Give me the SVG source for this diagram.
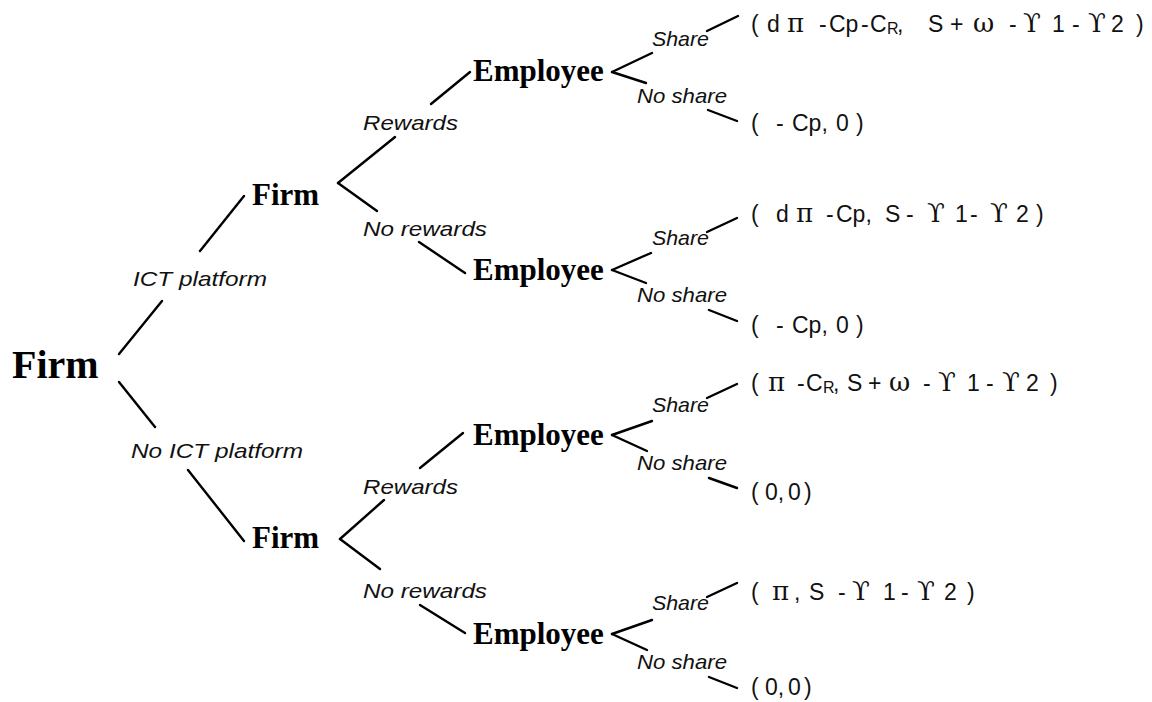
<svg xmlns="http://www.w3.org/2000/svg" width="1152" height="702" viewBox="0 0 1152 702">
<style>
.node{font-family:"Liberation Serif","Times New Roman",serif;font-weight:bold;fill:#000}
.lbl{font-family:"Liberation Sans",Arial,sans-serif;font-style:italic;font-size:21px;fill:#111}
.pay{font-family:"Liberation Sans",Arial,sans-serif;font-size:23px;fill:#111}
.gk{font-family:"DejaVu Serif","Liberation Serif",serif;font-size:26px}
.sub{font-size:16px}
.edge line{stroke:#000;stroke-width:2.4;stroke-linecap:round}
</style>
<rect width="1152" height="702" fill="#fff"/>
<g id="connectors" class="edge">
<line x1="119" y1="354" x2="162" y2="301"/>
<line x1="200" y1="251" x2="244" y2="196"/>
<line x1="119" y1="382" x2="155" y2="427"/>
<line x1="188" y1="470" x2="244" y2="541"/>
<line x1="338" y1="183" x2="395" y2="137"/>
<line x1="431" y1="104" x2="470" y2="72"/>
<line x1="338" y1="183" x2="377" y2="211"/>
<line x1="419" y1="242" x2="465" y2="273"/>
<line x1="340" y1="539" x2="384" y2="500"/>
<line x1="420" y1="468" x2="463" y2="433"/>
<line x1="340" y1="539" x2="380" y2="569"/>
<line x1="420" y1="605" x2="465" y2="633"/>
<line x1="612" y1="72" x2="652" y2="53"/>
<line x1="612" y1="72" x2="646" y2="83"/>
<line x1="707" y1="31" x2="738" y2="16"/>
<line x1="708" y1="110" x2="737" y2="121"/>
<line x1="612" y1="270" x2="651" y2="253"/>
<line x1="612" y1="270" x2="646" y2="283"/>
<line x1="707" y1="232" x2="737" y2="218"/>
<line x1="709" y1="310" x2="737" y2="321"/>
<line x1="612" y1="435" x2="652" y2="421"/>
<line x1="612" y1="435" x2="647" y2="451"/>
<line x1="707" y1="398" x2="737" y2="384"/>
<line x1="709" y1="478" x2="737" y2="488"/>
<line x1="612" y1="634" x2="652" y2="620"/>
<line x1="612" y1="634" x2="647" y2="650"/>
<line x1="707" y1="597" x2="737" y2="583"/>
<line x1="709" y1="677" x2="737" y2="688"/>
</g>
<g id="edge-labels">
<text class="lbl" x="133" y="286" textLength="134" lengthAdjust="spacingAndGlyphs">ICT platform</text>
<text class="lbl" x="131" y="458" textLength="172" lengthAdjust="spacingAndGlyphs">No ICT platform</text>
<text class="lbl" x="363" y="130" textLength="95" lengthAdjust="spacingAndGlyphs">Rewards</text>
<text class="lbl" x="363" y="236" textLength="124" lengthAdjust="spacingAndGlyphs">No rewards</text>
<text class="lbl" x="363" y="494" textLength="95" lengthAdjust="spacingAndGlyphs">Rewards</text>
<text class="lbl" x="363" y="598" textLength="124" lengthAdjust="spacingAndGlyphs">No rewards</text>
<text class="lbl" x="652" y="46" textLength="57" lengthAdjust="spacingAndGlyphs">Share</text>
<text class="lbl" x="637" y="103" textLength="90" lengthAdjust="spacingAndGlyphs">No share</text>
<text class="lbl" x="652" y="245" textLength="57" lengthAdjust="spacingAndGlyphs">Share</text>
<text class="lbl" x="637" y="302" textLength="90" lengthAdjust="spacingAndGlyphs">No share</text>
<text class="lbl" x="652" y="412" textLength="57" lengthAdjust="spacingAndGlyphs">Share</text>
<text class="lbl" x="637" y="470" textLength="90" lengthAdjust="spacingAndGlyphs">No share</text>
<text class="lbl" x="652" y="610" textLength="57" lengthAdjust="spacingAndGlyphs">Share</text>
<text class="lbl" x="637" y="669" textLength="90" lengthAdjust="spacingAndGlyphs">No share</text>
</g>
<g id="n-root"><text class="node" x="12" y="378" font-size="40">Firm</text></g>
<g id="n-firm-ict"><text class="node" x="252" y="205" font-size="31">Firm</text></g>
<g id="n-firm-noict"><text class="node" x="252" y="548" font-size="31">Firm</text></g>
<g id="n-emp1"><text class="node" x="473" y="81" font-size="31">Employee</text></g>
<g id="n-emp2"><text class="node" x="473" y="280" font-size="31">Employee</text></g>
<g id="n-emp3"><text class="node" x="473" y="445" font-size="31">Employee</text></g>
<g id="n-emp4"><text class="node" x="473" y="644" font-size="31">Employee</text></g>
<g id="p1"><text class="pay"><tspan x="751" y="32">(</tspan><tspan x="767" y="32">d</tspan><tspan class="gk" x="787" y="32">π</tspan><tspan x="819" y="32">-</tspan><tspan x="829" y="32">Cp</tspan><tspan x="861" y="32">-</tspan><tspan x="870" y="32">C</tspan><tspan class="sub" x="887" y="34">R</tspan><tspan x="897" y="32">,</tspan><tspan x="928" y="32">S</tspan><tspan x="950" y="32">+</tspan><tspan class="gk" x="973" y="32">ω</tspan><tspan x="1009" y="32">-</tspan><tspan class="gk" x="1023" y="32">ϒ</tspan><tspan x="1052" y="32">1</tspan><tspan x="1072" y="32">-</tspan><tspan class="gk" x="1088" y="32">ϒ</tspan><tspan x="1111" y="32">2</tspan><tspan x="1136" y="32">)</tspan></text></g>
<g id="p2"><text class="pay"><tspan x="751" y="131">(</tspan><tspan x="776" y="131">-</tspan><tspan x="792" y="131">Cp,</tspan><tspan x="836" y="131">0</tspan><tspan x="856" y="131">)</tspan></text></g>
<g id="p3"><text class="pay"><tspan x="751" y="222">(</tspan><tspan x="776" y="222">d</tspan><tspan class="gk" x="796" y="222">π</tspan><tspan x="826" y="222">-</tspan><tspan x="836" y="222">Cp,</tspan><tspan x="885" y="222">S</tspan><tspan x="906" y="222">-</tspan><tspan class="gk" x="927" y="222">ϒ</tspan><tspan x="955" y="222">1</tspan><tspan x="970" y="222">-</tspan><tspan class="gk" x="990" y="222">ϒ</tspan><tspan x="1016" y="222">2</tspan><tspan x="1036" y="222">)</tspan></text></g>
<g id="p4"><text class="pay"><tspan x="751" y="333">(</tspan><tspan x="776" y="333">-</tspan><tspan x="792" y="333">Cp,</tspan><tspan x="836" y="333">0</tspan><tspan x="856" y="333">)</tspan></text></g>
<g id="p5"><text class="pay"><tspan x="751" y="391">(</tspan><tspan class="gk" x="768" y="391">π</tspan><tspan x="797" y="391">-</tspan><tspan x="806" y="391">C</tspan><tspan class="sub" x="823" y="393">R</tspan><tspan x="833" y="391">,</tspan><tspan x="847" y="391">S</tspan><tspan x="868" y="391">+</tspan><tspan class="gk" x="889" y="391">ω</tspan><tspan x="923" y="391">-</tspan><tspan class="gk" x="938" y="391">ϒ</tspan><tspan x="967" y="391">1</tspan><tspan x="986" y="391">-</tspan><tspan class="gk" x="1002" y="391">ϒ</tspan><tspan x="1026" y="391">2</tspan><tspan x="1050" y="391">)</tspan></text></g>
<g id="p6"><text class="pay"><tspan x="751" y="500">(</tspan><tspan x="765" y="500">0,</tspan><tspan x="788" y="500">0</tspan><tspan x="804" y="500">)</tspan></text></g>
<g id="p7"><text class="pay"><tspan x="751" y="600">(</tspan><tspan class="gk" x="772" y="600">π</tspan><tspan x="794" y="600">,</tspan><tspan x="809" y="600">S</tspan><tspan x="838" y="600">-</tspan><tspan class="gk" x="852" y="600">ϒ</tspan><tspan x="883" y="600">1</tspan><tspan x="901" y="600">-</tspan><tspan class="gk" x="917" y="600">ϒ</tspan><tspan x="944" y="600">2</tspan><tspan x="967" y="600">)</tspan></text></g>
<g id="p8"><text class="pay"><tspan x="751" y="695">(</tspan><tspan x="765" y="695">0,</tspan><tspan x="788" y="695">0</tspan><tspan x="804" y="695">)</tspan></text></g>
</svg>
